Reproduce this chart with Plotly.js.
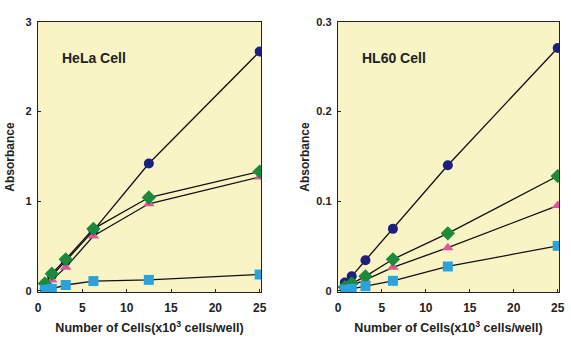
<!DOCTYPE html>
<html><head><meta charset="utf-8">
<script src="https://cdn.plot.ly/plotly-3.0.1.min.js"></script>
<style>html,body{margin:0;padding:0;background:#fff;}#chart{width:571px;height:342px;}</style>
</head><body><div id="chart"></div>
<script>
// Cell numbers (x10^3 cells/well)
const cells = [0.78, 1.56, 3.125, 6.25, 12.5, 25];

// HeLa cell absorbance
const helaCircle   = [0.08, 0.17, 0.33, 0.67, 1.42, 2.67];
const helaTriangle = [0.05, 0.12, 0.26, 0.61, 0.97, 1.27];
const helaDiamond  = [0.08, 0.19, 0.35, 0.69, 1.04, 1.33];
const helaSquare   = [0.01, 0.02, 0.063, 0.107, 0.12, 0.18];

// HL60 cell absorbance
const hl60Circle   = [0.009, 0.016, 0.034, 0.069, 0.140, 0.271];
const hl60Triangle = [0.003, 0.006, 0.012, 0.026, 0.048, 0.095];
const hl60Diamond  = [0.004, 0.008, 0.016, 0.035, 0.064, 0.128];
const hl60Square   = [0.001, 0.002, 0.005, 0.011, 0.027, 0.050];

const xTicks = [0, 5, 10, 15, 20, 25];
const yTicksHela = [0, 1, 2, 3];
const yTickTextHela = ['0', '1', '2', '3'];
const yTicksHl60 = [0, 0.1, 0.2, 0.3];
const yTickTextHl60 = ['0', '0.1', '0.2', '0.3'];

const navy = '#1c1f7e', pink = '#e0559a', green = '#1b8a3c', cyan = '#2aa3dc';
const lineStyle = {color: '#111', width: 1.3};

function tr(y, xa, ya, sym, col, size) {
  return {x: cells, y: y, xaxis: xa, yaxis: ya, type: 'scatter', mode: 'lines+markers',
    line: lineStyle, marker: {symbol: sym, color: col, size: size, line: {width: 0}},
    showlegend: false, hoverinfo: 'skip'};
}

const data = [
  tr(helaCircle, 'x', 'y', 'circle', navy, 10),
  tr(helaTriangle, 'x', 'y', 'triangle-up', pink, 10),
  tr(helaDiamond, 'x', 'y', 'diamond', green, 11),
  tr(helaSquare, 'x', 'y', 'square', cyan, 10),
  tr(hl60Circle, 'x2', 'y2', 'circle', navy, 10),
  tr(hl60Triangle, 'x2', 'y2', 'triangle-up', pink, 10),
  tr(hl60Diamond, 'x2', 'y2', 'diamond', green, 11),
  tr(hl60Square, 'x2', 'y2', 'square', cyan, 10)
];

const fam = 'Liberation Sans, Arial, sans-serif';
const font = {family: fam, color: '#222'};
function xaxis(dom, anchor) {
  return {domain: dom, anchor: anchor, range: [0, 25.15], tickvals: xTicks,
    showline: true, mirror: true, linecolor: '#222', linewidth: 1.3,
    ticks: 'inside', ticklen: 3, tickcolor: '#222', showgrid: false, zeroline: false,
    ticklabelstandoff: 4,
    tickfont: {family: fam, size: 12, color: '#222', weight: 'bold'},
    title: {text: 'Number of Cells(x10<sup>3</sup> cells/well)', standoff: 9,
      font: {family: fam, size: 12.5, color: '#222', weight: 'bold'}}};
}
function yaxis(range, vals, text, anchor, standoff) {
  return {domain: [0, 1], anchor: anchor, range: range, tickvals: vals, ticktext: text,
    showline: true, mirror: true, linecolor: '#222', linewidth: 1.3,
    ticks: 'inside', ticklen: 3, tickcolor: '#222', showgrid: false, zeroline: false,
    ticklabelstandoff: 3,
    tickfont: {family: fam, size: 11, color: '#222', weight: 'bold'},
    title: {text: 'Absorbance', standoff: standoff,
      font: {family: fam, size: 12, color: '#222', weight: 'bold'}}};
}

const layout = {
  width: 571, height: 342,
  margin: {l: 0, r: 0, t: 22, b: 50},
  paper_bgcolor: '#ffffff', plot_bgcolor: '#f8f4c6',
  font: font,
  xaxis: xaxis([38/571, 261/571], 'y'),
  yaxis: yaxis([-0.015, 3], yTicksHela, yTickTextHela, 'x', 8),
  xaxis2: xaxis([338/571, 559/571], 'y2'),
  yaxis2: yaxis([-0.0015, 0.3], yTicksHl60, yTickTextHl60, 'x2', 4),
  annotations: [
    {text: 'HeLa Cell', xref: 'x', yref: 'y', x: 2.5, y: 2.6, xanchor: 'left', yanchor: 'middle',
      showarrow: false, font: {family: fam, size: 14, color: '#222', weight: 'bold'}},
    {text: 'HL60 Cell', xref: 'x2', yref: 'y2', x: 2.5, y: 0.26, xanchor: 'left', yanchor: 'middle',
      showarrow: false, font: {family: fam, size: 14, color: '#222', weight: 'bold'}}
  ]
};

Plotly.newPlot('chart', data, layout, {staticPlot: true, displayModeBar: false});
</script></body></html>
